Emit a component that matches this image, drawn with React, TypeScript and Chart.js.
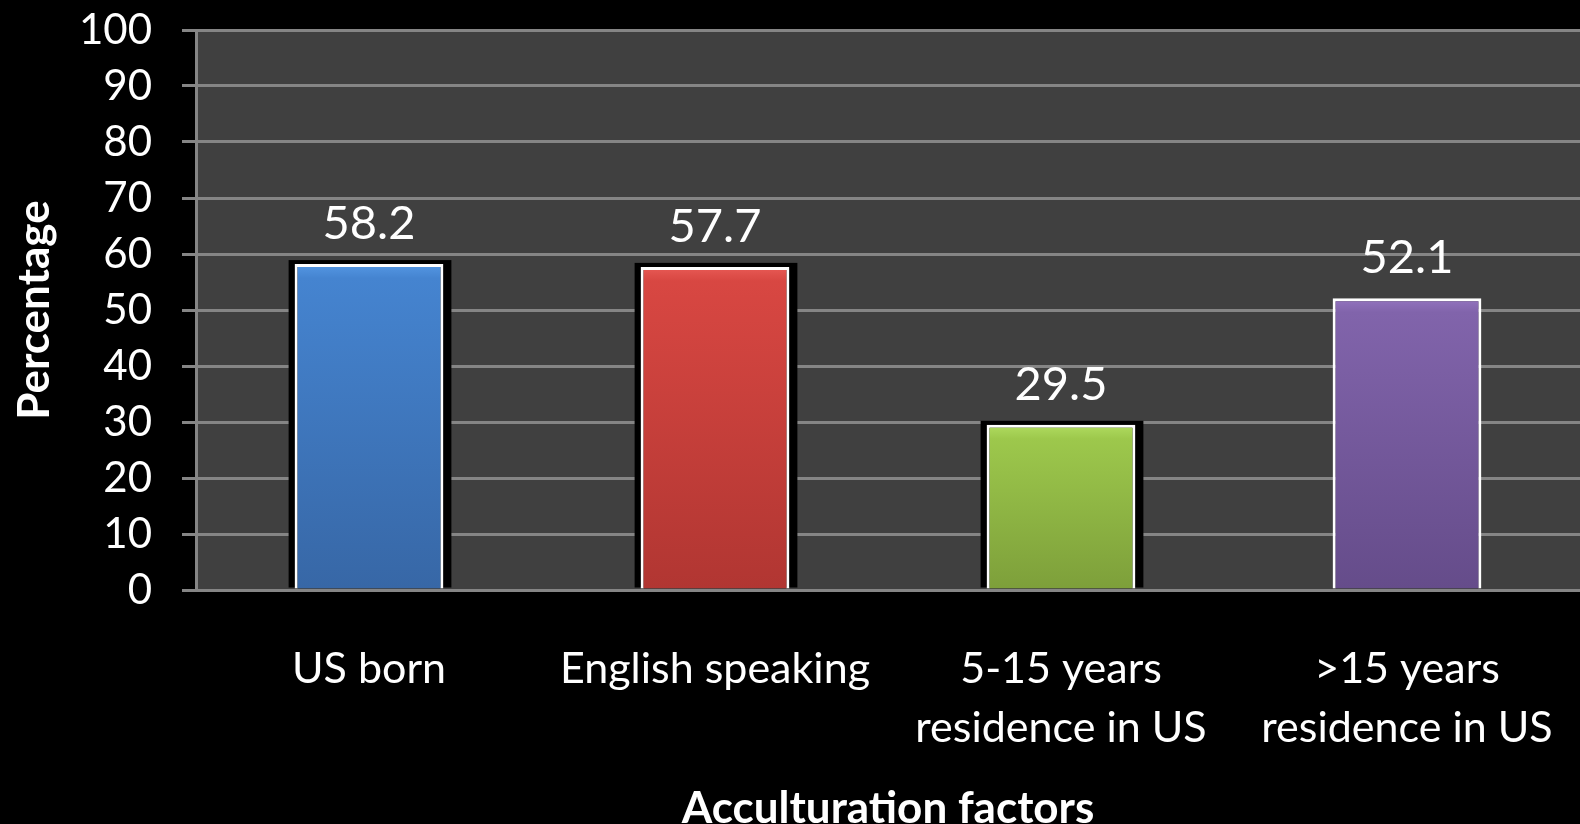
import React, { useEffect, useRef } from "react";
import { Chart, registerables } from "chart.js";

Chart.register(...registerables);

const categories: (string | string[])[] = [
  "US born",
  "English speaking",
  ["5-15 years", "residence in US"],
  [">15 years", "residence in US"],
];
const percentages = [58.2, 57.7, 29.5, 52.1];
const valueLabels = ["58.2", "57.7", "29.5", "52.1"];
const barTopColors = ["#5598e4", "#e85a55", "#b0dc60", "#9474c0"];
const barMidColors = ["#4584d0", "#d84742", "#9dc84c", "#8164ab"];
const barBottomColors = ["#3767a6", "#b13632", "#7d9f3a", "#654c8a"];
const shadowedBars = [true, true, true, false];
const yTicks = [0, 10, 20, 30, 40, 50, 60, 70, 80, 90, 100];

const FONT = "Lato, 'Open Sans', 'DejaVu Sans', sans-serif";

const bgPlugin = {
  id: "bgPlugin",
  beforeDraw(chart: any) {
    const { ctx, chartArea } = chart;
    ctx.save();
    ctx.fillStyle = "#000000";
    ctx.fillRect(0, 0, chart.width, chart.height);
    ctx.fillStyle = "#404040";
    ctx.fillRect(chartArea.left, chartArea.top, chartArea.right - chartArea.left, chartArea.bottom - chartArea.top);
    ctx.restore();
  },
};

const shadowPlugin = {
  id: "shadowPlugin",
  beforeDatasetsDraw(chart: any) {
    const { ctx } = chart;
    const meta = chart.getDatasetMeta(0);
    ctx.save();
    ctx.fillStyle = "#000000";
    meta.data.forEach((el: any, i: number) => {
      if (!shadowedBars[i]) return;
      const { x, y, base, width } = el.getProps(["x", "y", "base", "width"], true);
      ctx.fillRect(x - width / 2 - 6, y - 4, width + 14, base - y + 3);
    });
    ctx.restore();
  },
};

const valueLabelPlugin = {
  id: "valueLabelPlugin",
  afterDatasetsDraw(chart: any) {
    const { ctx } = chart;
    const meta = chart.getDatasetMeta(0);
    ctx.save();
    ctx.fillStyle = "#ffffff";
    ctx.font = `47px ${FONT}`;
    ctx.textAlign = "center";
    ctx.textBaseline = "alphabetic";
    meta.data.forEach((el: any, i: number) => {
      const { x, y } = el.getProps(["x", "y"], true);
      ctx.fillText(valueLabels[i], x, y - 25);
    });
    ctx.restore();
  },
};

export default function App() {
  const canvasRef = useRef<HTMLCanvasElement | null>(null);

  useEffect(() => {
    document.body.style.margin = "0";
    document.body.style.background = "#000";
    const canvas = canvasRef.current;
    if (!canvas) return;
    const chart = new Chart(canvas, {
      type: "bar",
      data: {
        labels: categories as any,
        datasets: [
          {
            data: percentages,
            backgroundColor: (c: any) => {
              const ch = c.chart;
              const i = c.dataIndex;
              if (!ch.chartArea || !ch.scales.y) return barMidColors[i];
              const top = ch.scales.y.getPixelForValue(percentages[i]);
              const bottom = ch.scales.y.getPixelForValue(0);
              if (!isFinite(top) || !isFinite(bottom) || bottom <= top) return barMidColors[i];
              const g = ch.ctx.createLinearGradient(0, top, 0, bottom);
              const edge = Math.min(0.2, 14 / (bottom - top));
              g.addColorStop(0, barTopColors[i]);
              g.addColorStop(edge, barMidColors[i]);
              g.addColorStop(1, barBottomColors[i]);
              return g;
            },
            borderColor: "#ffffff",
            borderWidth: 3,
            borderSkipped: "bottom",
            barPercentage: 0.43,
            categoryPercentage: 1,
          },
        ],
      },
      options: {
        responsive: false,
        animation: false,
        devicePixelRatio: 1,
        layout: { padding: { top: 30, right: 0, bottom: 0, left: 0 } },
        plugins: {
          legend: { display: false },
          tooltip: { enabled: false },
          title: { display: false },
        },
        scales: {
          x: {
            grid: { display: false, drawTicks: false },
            border: { display: false },
            ticks: {
              color: "#ffffff",
              font: { family: FONT, size: 43, lineHeight: 1.37 },
              padding: 50,
              maxRotation: 0,
              autoSkip: false,
            },
            title: {
              display: true,
              text: "Acculturation factors",
              color: "#ffffff",
              font: { family: FONT, size: 44, weight: "bold", lineHeight: 1.0 },
              padding: { top: 0, bottom: -7 },
            },
            afterFit(scale: any) {
              scale.height = 234;
              scale.paddingLeft = 0;
              scale.paddingRight = 0;
            },
          },
          y: {
            min: 0,
            max: 100,
            afterBuildTicks(scale: any) {
              scale.ticks = yTicks.map((v) => ({ value: v }));
            },
            grid: {
              color: "#858585",
              lineWidth: 3,
              tickLength: 14,
              tickColor: "#858585",
            },
            border: { display: true, color: "#858585", width: 3 },
            ticks: {
              color: "#ffffff",
              font: { family: FONT, size: 42 },
              padding: 30,
            },
            title: {
              display: true,
              text: "Percentage",
              color: "#ffffff",
              font: { family: FONT, size: 44, weight: "bold", lineHeight: 1.2 },
              padding: { top: 8, bottom: 0 },
            },
            afterFit(scale: any) {
              scale.width = 196;
              scale.paddingTop = 0;
              scale.paddingBottom = 0;
            },
          },
        },
      },
      plugins: [bgPlugin, shadowPlugin, valueLabelPlugin],
    });
    return () => chart.destroy();
  }, []);

  return (
    <div style={{ width: 1580, height: 824, background: "#000" }}>
      <canvas ref={canvasRef} width={1580} height={824} style={{ display: "block" }} />
    </div>
  );
}
